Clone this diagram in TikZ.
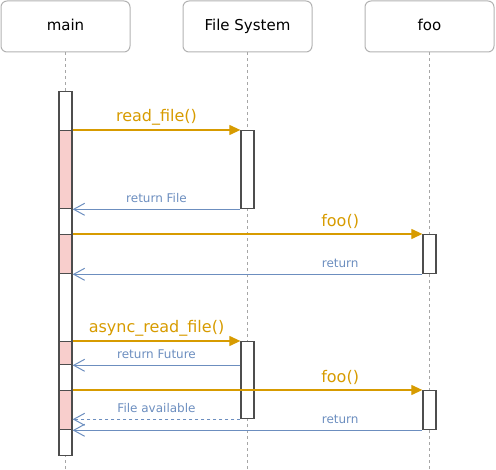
\documentclass[tikz,border=0pt]{standalone}
\usepackage{fontspec}
\setmainfont{DejaVu Sans}
\usetikzlibrary{arrows.meta}
\definecolor{orng}{HTML}{D79B00}
\definecolor{blu}{HTML}{6C8EBF}
\definecolor{pinkf}{HTML}{F8CECC}
\definecolor{hdr}{HTML}{B3B3B3}
\definecolor{barc}{HTML}{4D4D4D}
\definecolor{lifec}{HTML}{A6A6A6}
\begin{document}
\begin{tikzpicture}[x=1pt,y=-1pt,
 header/.style={draw=hdr, line width=1pt, rounded corners=6pt, minimum width=129pt, minimum height=51pt, fill=white, font=\fontsize{15}{18}\selectfont, inner sep=0pt, text height=11pt, text depth=3pt},
 life/.style={draw=lifec, dash pattern=on 3pt off 3pt, line width=1pt},
 act/.style={draw=barc, line width=1.3pt, fill=white, minimum width=13pt, inner sep=0pt, anchor=north},
 busy/.style={act, fill=pinkf},
 call/.style={draw=orng, line width=1.2pt, -{Triangle[length=11pt,width=10pt]}},
 ret/.style={draw=blu, line width=1pt, -{Straight Barb[length=11pt,width=12pt]}},
 clab/.style={text=orng, font=\fontsize{16}{19}\selectfont, midway, yshift=12.5pt, inner sep=0pt},
 rlab/.style={text=blu, font=\fontsize{12}{14}\selectfont, midway, yshift=11pt, inner sep=0pt}
]
\useasboundingbox (0,0) rectangle (496,470);
% headers
\node[header] (hm) at (65.5,26.5) {main};
\node[header] (hf) at (247.5,26.5) {File System};
\node[header] (ho) at (429.5,26.5) {foo};
% lifelines
\coordinate (em) at (65.5,470);
\coordinate (ef) at (247.5,470);
\coordinate (eo) at (429.5,470);
\draw[life] (hm.south) -- (em);
\draw[life] (hf.south) -- (ef);
\draw[life] (ho.south) -- (eo);
% main activation
\node[act, minimum height=364pt] (mbar) at (65.5,91) {};
\node[busy, minimum height=78pt] (m1) at (65.5,130) {};
\node[busy, minimum height=39pt] (m2) at (65.5,234) {};
\node[busy, minimum height=23pt] (m3) at (65.5,341) {};
\node[busy, minimum height=39pt] (m4) at (65.5,390) {};
% file system activation
\node[act, minimum height=78pt] (f1) at (247.5,130) {};
\node[act, minimum height=77pt] (f2) at (247.5,341) {};
% foo activation
\node[act, minimum height=39pt] (o1) at (429.5,234) {};
\node[act, minimum height=39pt] (o2) at (429.5,390) {};
% messages
\draw[call] (m1.north east) -- node[clab] {read\_file()} (f1.north west);
\draw[ret] (f1.south west) -- node[rlab] {return File} (m1.south east);
\draw[call] (m2.north east) -- node[clab, pos=0.765] {foo()} (o1.north west);
\draw[ret] (o1.south west) -- node[rlab, pos=0.235] {return} (m2.south east);
\draw[call] (m3.north east) -- node[clab] {async\_read\_file()} (f2.north west);
\draw[ret] (f2.west |- m3.south) -- node[rlab] {return Future} (m3.south east);
\draw[call] (m4.north east) -- node[clab, pos=0.765] {foo()} (o2.north west);
\draw[ret, dash pattern=on 3pt off 3pt] (f2.south west) -- node[rlab] {File available} (m4.east |- f2.south);
\draw[ret] (o2.south west) -- node[rlab, pos=0.235] {return} (m4.south east);
\end{tikzpicture}
\end{document}
